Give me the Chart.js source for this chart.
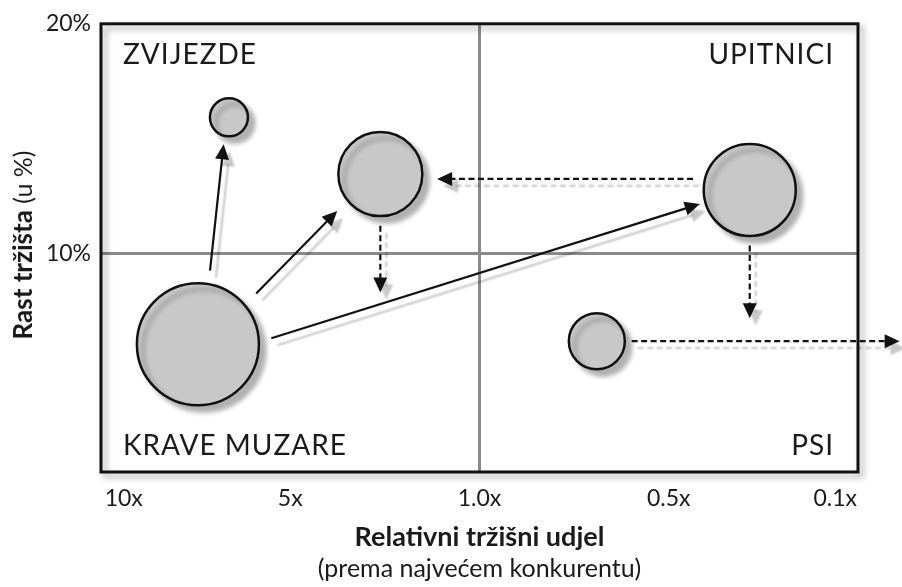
<!DOCTYPE html>
<html>
<head>
<meta charset="utf-8">
<script src="https://cdn.jsdelivr.net/npm/chart.js@4.4.1/dist/chart.umd.min.js"></script>
<style>
  body { margin: 0; background: #fff; }
  #wrap { width: 902px; height: 587px; }
</style>
</head>
<body>
<div id="wrap"><canvas id="bcg"></canvas></div>
<script>
// osi
const xTickValues = [0.3, 2.5, 5, 7.5, 9.7];
const xTickLabels = ['10x', '5x', '1.0x', '0.5x', '0.1x'];
const yTickValues = [10, 20];
const yTickLabels = ['10%', '20%'];

// mjehurići (x = položaj na osi udjela, y = rast u %, r = veličina)
const bubbleX = [1.69, 3.69, 8.57, 6.55, 1.28];
const bubbleY = [15.93, 13.46, 12.77, 6.19, 6.06];
const bubbleR = [19, 42, 46, 28, 61];

// strelice: početak -> kraj, puna ili isprekidana
const arrowFromX = [1.44, 2.05, 2.25, 7.82, 3.69, 8.57, 7.01];
const arrowFromY = [9.26, 8.27, 6.32, 13.25, 11.21, 10.35, 6.19];
const arrowToX = [1.62, 3.12, 7.91, 4.44, 3.69, 8.57, 10.55];
const arrowToY = [14.76, 11.86, 12.16, 13.25, 8.31, 7.19, 6.19];
const arrowDashed = [false, false, false, true, true, true, true];

const quadrantLabels = ['ZVIJEZDE', 'UPITNICI', 'KRAVE MUZARE', 'PSI'];

const FONT = 'Lato, "Open Sans", sans-serif';

function drawArrow(ctx, x1, y1, x2, y2, dashed) {
    const ang = Math.atan2(y2 - y1, x2 - x1);
    const head = 15, half = 7;
    const bx = x2 - Math.cos(ang) * head;
    const by = y2 - Math.sin(ang) * head;
    ctx.beginPath();
    ctx.setLineDash(dashed ? [6, 3.5] : []);
    ctx.moveTo(x1, y1);
    ctx.lineTo(bx + Math.cos(ang) * 2, by + Math.sin(ang) * 2);
    ctx.stroke();
    ctx.setLineDash([]);
    ctx.beginPath();
    ctx.moveTo(x2, y2);
    ctx.lineTo(bx - Math.sin(ang) * half, by + Math.cos(ang) * half);
    ctx.lineTo(bx + Math.sin(ang) * half, by - Math.cos(ang) * half);
    ctx.closePath();
    ctx.fill();
}

const bcgPlugin = {
    id: 'bcg',
    beforeDatasetsDraw(chart) {
        const { ctx, scales: { x, y } } = chart;
        ctx.save();
        ctx.strokeStyle = '#111';
        ctx.fillStyle = '#111';
        ctx.lineWidth = 2.2;
        ctx.shadowColor = 'rgba(0,0,0,0.22)';
        ctx.shadowOffsetX = 6;
        ctx.shadowOffsetY = 7;
        ctx.shadowBlur = 2;
        for (let i = 0; i < arrowFromX.length; i++) {
            drawArrow(ctx,
                x.getPixelForValue(arrowFromX[i]), y.getPixelForValue(arrowFromY[i]),
                x.getPixelForValue(arrowToX[i]), y.getPixelForValue(arrowToY[i]),
                arrowDashed[i]);
        }
        ctx.restore();
    },
    beforeDatasetDraw(chart) {
        const ctx = chart.ctx;
        ctx.save();
        ctx.shadowColor = 'rgba(0,0,0,0.3)';
        ctx.shadowOffsetX = 6;
        ctx.shadowOffsetY = 6;
        ctx.shadowBlur = 5;
    },
    afterDatasetDraw(chart) {
        chart.ctx.restore();
    },
    afterDraw(chart) {
        const { ctx, chartArea: a } = chart;
        ctx.save();
        // okvir
        ctx.shadowColor = 'rgba(0,0,0,0.35)';
        ctx.shadowOffsetX = 4;
        ctx.shadowOffsetY = 4;
        ctx.shadowBlur = 6;
        ctx.strokeStyle = '#111';
        ctx.lineWidth = 3;
        ctx.strokeRect(a.left, a.top, a.right - a.left, a.bottom - a.top);
        ctx.restore();

        ctx.save();
        ctx.fillStyle = '#1a1a1a';
        ctx.font = '28px ' + FONT;
        ctx.letterSpacing = '1px';
        ctx.textBaseline = 'alphabetic';
        ctx.textAlign = 'left';
        ctx.fillText(quadrantLabels[0], a.left + 22, a.top + 40);
        ctx.fillText(quadrantLabels[2], a.left + 22, a.bottom - 17);
        ctx.textAlign = 'right';
        ctx.fillText(quadrantLabels[1], a.right - 24, a.top + 40);
        ctx.fillText(quadrantLabels[3], a.right - 24, a.bottom - 17);
        ctx.letterSpacing = '0px';

        // naslov osi x
        const cx = (a.left + a.right) / 2;
        ctx.textAlign = 'center';
        ctx.textBaseline = 'middle';
        ctx.font = 'bold 27px ' + FONT;
        ctx.fillText('Relativni tržišni udjel', cx, 537);
        ctx.font = '25px ' + FONT;
        ctx.fillText('(prema najvećem konkurentu)', cx, 569);

        // naslov osi y
        ctx.translate(24, 245);
        ctx.rotate(-Math.PI / 2);
        const boldPart = 'Rast tržišta';
        const normPart = ' (u %)';
        ctx.font = 'bold 26px ' + FONT;
        const w1 = ctx.measureText(boldPart).width;
        ctx.font = '25px ' + FONT;
        const w2 = ctx.measureText(normPart).width;
        ctx.textAlign = 'left';
        ctx.font = 'bold 26px ' + FONT;
        ctx.fillText(boldPart, -(w1 + w2) / 2, 0);
        ctx.font = '25px ' + FONT;
        ctx.fillText(normPart, -(w1 + w2) / 2 + w1, 0);
        ctx.restore();
    }
};

const points = bubbleX.map((v, i) => ({ x: v, y: bubbleY[i], r: bubbleR[i] }));

new Chart(document.getElementById('bcg'), {
    type: 'bubble',
    data: {
        datasets: [{
            data: points,
            backgroundColor: '#c8c8c8',
            borderColor: '#111',
            borderWidth: 2.5,
            hoverBorderWidth: 2.5,
            hoverRadius: 0,
            clip: false
        }]
    },
    options: {
        responsive: true,
        maintainAspectRatio: false,
        animation: false,
        events: [],
        layout: { autoPadding: false, padding: { top: 22, right: 44, left: 0, bottom: 0 } },
        plugins: {
            legend: { display: false },
            tooltip: { enabled: false }
        },
        scales: {
            x: {
                type: 'linear',
                min: 0,
                max: 10,
                afterFit(scale) { scale.height = 115; },
                afterBuildTicks(scale) { scale.ticks = xTickValues.map(v => ({ value: v })); },
                border: { display: false },
                grid: {
                    color: ctx => (ctx.tick && ctx.tick.value === 5 ? '#8a8a8a' : 'rgba(0,0,0,0)'),
                    lineWidth: 3,
                    drawTicks: false
                },
                ticks: {
                    autoSkip: false,
                    maxRotation: 0,
                    padding: 13,
                    color: '#1a1a1a',
                    font: { family: FONT, size: 23 },
                    callback: (v, i) => xTickLabels[i]
                }
            },
            y: {
                type: 'linear',
                min: 0.5,
                max: 20,
                afterFit(scale) { scale.width = 101; },
                afterBuildTicks(scale) { scale.ticks = yTickValues.map(v => ({ value: v })); },
                border: { display: false },
                grid: {
                    color: ctx => (ctx.tick && ctx.tick.value === 10 ? '#8a8a8a' : 'rgba(0,0,0,0)'),
                    lineWidth: 3,
                    drawTicks: false
                },
                ticks: {
                    padding: 10,
                    color: '#1a1a1a',
                    font: { family: FONT, size: 23 },
                    callback: (v, i) => yTickLabels[i]
                }
            }
        }
    },
    plugins: [bcgPlugin]
});
</script>
</body>
</html>
